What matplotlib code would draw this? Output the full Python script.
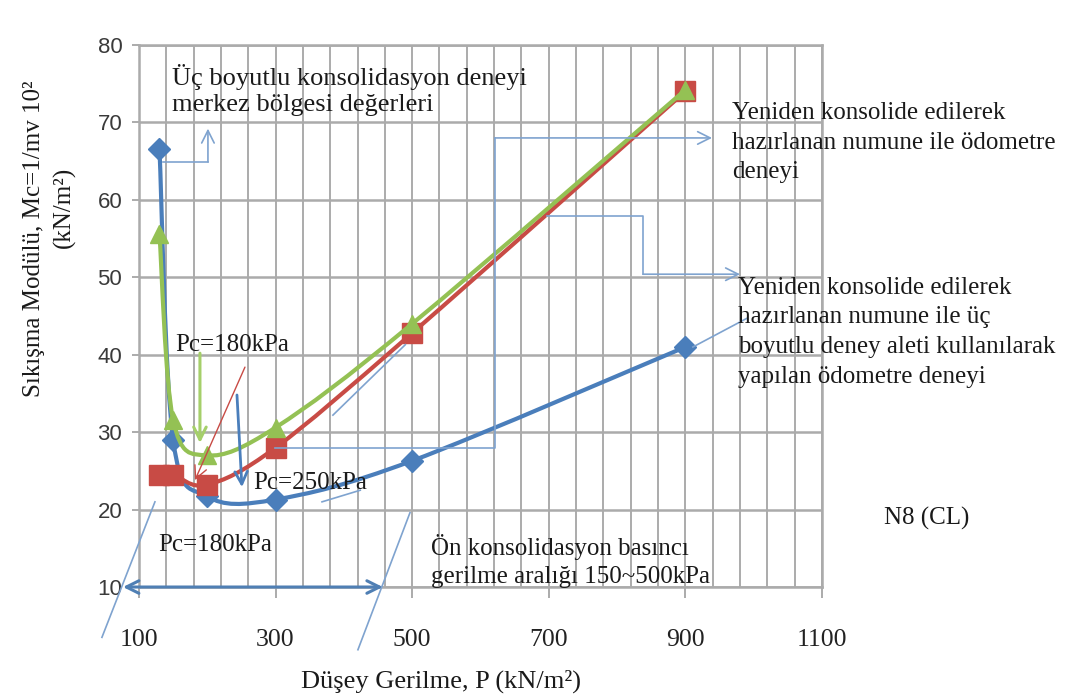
import numpy as np
import matplotlib
matplotlib.use('Agg')
import matplotlib.pyplot as plt
from matplotlib.path import Path
from matplotlib.patches import PathPatch

# Düşey gerilme (kN/m²) ve sıkışma modülü değerleri
p_values = [130, 150, 200, 300, 500, 900]
mc_uc_boyutlu = [66.6, 29.0, 21.7, 21.3, 26.3, 41.0]      # mavi, elmas
mc_odometre = [24.5, 24.5, 23.2, 28.0, 42.8, 74.0]        # kırmızı, kare
mc_merkez = [55.6, 31.6, 27.0, 30.6, 44.0, 74.2]          # yeşil, üçgen

x_ticks = [100, 300, 500, 700, 900, 1100]
y_ticks = [10, 20, 30, 40, 50, 60, 70, 80]

SERIF = 'Liberation Serif'
SANS = 'Liberation Sans'
BLUE = '#4a7ebb'
RED = '#c84b45'
GREEN = '#94c154'
LEADER = '#7fa3cf'
GRID = '#ababab'


def smooth_path(xs, ys):
    # Excel tarzı yumuşatılmış çizgi (Catmull-Rom -> kübik Bezier)
    pts = np.column_stack([xs, ys]).astype(float)
    n = len(pts)
    verts = [pts[0]]
    codes = [Path.MOVETO]
    for i in range(n - 1):
        p0 = pts[max(i - 1, 0)]
        p1 = pts[i]
        p2 = pts[i + 1]
        p3 = pts[min(i + 2, n - 1)]
        verts += [p1 + (p2 - p0) / 6, p2 - (p3 - p1) / 6, p2]
        codes += [Path.CURVE4] * 3
    return Path(verts, codes)


fig = plt.figure(figsize=(10.78, 6.99), dpi=100)
ax = fig.add_axes([0.1289, 0.1602, 0.6336, 0.7754])

ax.set_xlim(100, 1100)
ax.set_ylim(10, 80)
ax.set_xticks(x_ticks)
ax.set_xticks(np.arange(100, 1101, 40), minor=True)
ax.set_yticks(y_ticks)
ax.grid(True, which='both', axis='x', color=GRID, lw=1.4)
ax.grid(True, which='major', axis='y', color=GRID, lw=1.8)
ax.set_axisbelow(True)
for s in ax.spines.values():
    s.set_color(GRID)
    s.set_linewidth(1.8)

ax.tick_params(axis='x', which='major', length=8, width=1.4, color=GRID, pad=22)
ax.tick_params(axis='x', which='minor', length=0)
ax.tick_params(axis='y', length=5, width=1.4, color=GRID, pad=7)
for lab in ax.get_xticklabels():
    lab.set_fontfamily(SERIF)
    lab.set_fontsize(18.5)
    lab.set_color('#222222')
for lab in ax.get_yticklabels():
    lab.set_fontfamily(SANS)
    lab.set_fontsize(16)
    lab.set_color('#3a3a3a')

# Seriler: mavi, kırmızı, yeşil
series = [
    (mc_uc_boyutlu, BLUE, 'D', 11, 3),
    (mc_odometre, RED, 's', 15, 4),
    (mc_merkez, GREEN, '^', 13, 5),
]
for vals, col, mk, ms, z in series:
    ax.add_patch(PathPatch(smooth_path(p_values, vals), fill=False, edgecolor=col,
                           lw=3.0, zorder=z, capstyle='round', joinstyle='round'))
    ax.plot(p_values, vals, linestyle='none', marker=mk, ms=ms, color=col,
            mec=col, zorder=z, clip_on=False)


def leader(points, color=LEADER, lw=1.2, head=True, style='->'):
    xs = [p[0] for p in points]
    ys = [p[1] for p in points]
    ax.plot(xs[:-1], ys[:-1], color=color, lw=lw, zorder=6, clip_on=False)
    if head:
        ax.annotate('', xy=points[-1], xytext=points[-2], zorder=6,
                    arrowprops=dict(arrowstyle=style + ',head_length=0.9,head_width=0.45',
                                    color=color, lw=lw, shrinkA=0, shrinkB=0),
                    annotation_clip=False)
    else:
        ax.plot(xs[-2:], ys[-2:], color=color, lw=lw, zorder=6, clip_on=False)


# Açıklama çizgileri
leader([(135, 64.9), (201, 64.9), (201, 69.2)])
leader([(299, 27.95), (621, 27.95), (621, 68.0), (939, 68.0)])
leader([(697, 57.9), (838, 57.9), (838, 50.4), (980, 50.4)])
leader([(911, 41.0), (990, 44.7)], head=False)
leader([(384, 32.2), (490, 41.3)], head=False)
leader([(368, 21.0), (424, 22.5)], head=False)
leader([(45.8, 3.5), (123.4, 21.0)], head=False)
leader([(420.6, 1.9), (496.8, 19.6)], head=False)
leader([(189.3, 40.2), (189.3, 28.6)], color='#a5cf6a', lw=2.2)
leader([(255.2, 38.4), (182, 23.8)], color=RED, lw=1.0)
leader([(243.5, 34.8), (250.8, 22.9)], color=BLUE, lw=2.0)
ax.annotate('', xy=(76.6, 10), xytext=(457, 10), zorder=6,
            arrowprops=dict(arrowstyle='<->,head_length=0.9,head_width=0.45',
                            color='#4f7fb4', lw=2.2, shrinkA=0, shrinkB=0),
            annotation_clip=False)

# Metinler
tkw = dict(fontfamily=SERIF, fontsize=18, color='#1a1a1a', va='center', ha='left', zorder=7)
ax.text(148, 74.2, 'Üç boyutlu konsolidasyon deneyi\nmerkez bölgesi değerleri',
        linespacing=1.25, **{**tkw, 'fontsize': 19})
ax.text(968, 67.4, 'Yeniden konsolide edilerek\nhazırlanan numune ile ödometre\ndeneyi',
        linespacing=1.45, **tkw)
ax.text(977, 42.9, 'Yeniden konsolide edilerek\nhazırlanan numune ile üç\n'
        'boyutlu deney aleti kullanılarak\nyapılan ödometre deneyi',
        linespacing=1.45, **tkw)
ax.text(1253, 18.9, 'N8 (CL)', **{**tkw, 'ha': 'center'})
ax.text(527, 13.3, 'Ön konsolidasyon basıncı\ngerilme aralığı 150~500kPa',
        linespacing=1.35, **tkw)
ax.text(153, 41.25, 'Pc=180kPa', **tkw)
ax.text(267, 23.4, 'Pc=250kPa', **tkw)
ax.text(128, 15.4, 'Pc=180kPa', **tkw)

# Eksen başlıkları
fig.text(441 / 1078, 1 - 681 / 699, 'Düşey Gerilme, P (kN/m²)', fontfamily=SERIF,
         fontsize=19, color='#1a1a1a', ha='center', va='center')
fig.text(34 / 1078, 1 - 239 / 699, 'Sıkışma Modülü, Mc=1/mv 10²', fontfamily=SERIF,
         fontsize=18, color='#1a1a1a', ha='center', va='center', rotation=90)
fig.text(64 / 1078, 1 - 207 / 699, '(kN/m²)', fontfamily=SERIF,
         fontsize=18, color='#1a1a1a', ha='center', va='center', rotation=90)

fig.savefig('out.png', dpi=100)
